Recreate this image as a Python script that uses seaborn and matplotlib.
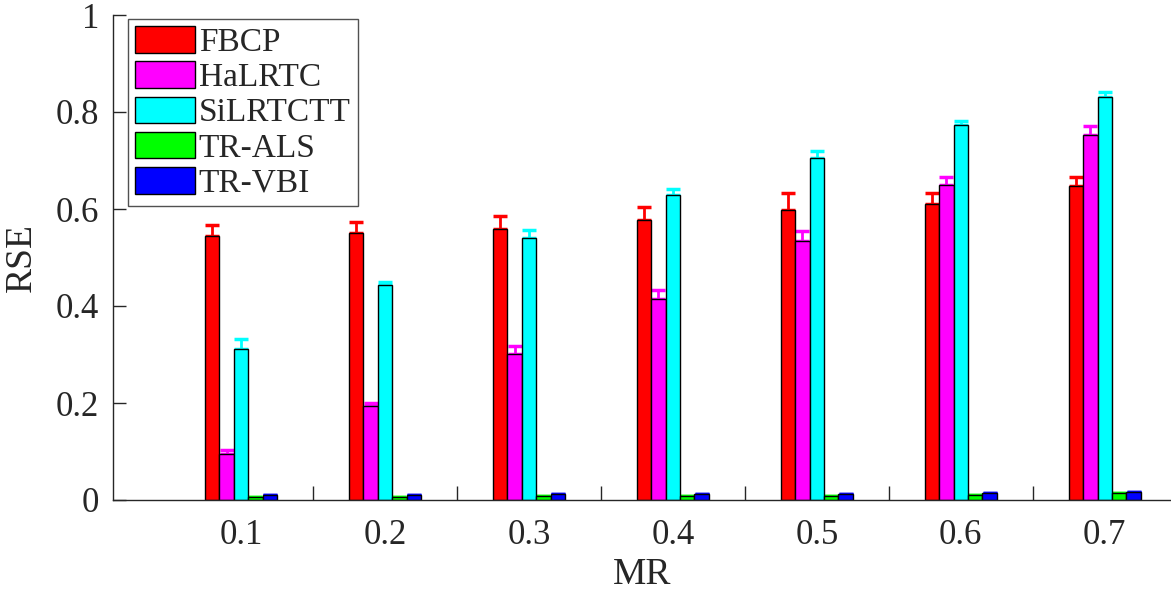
import numpy as np
import pandas as pd
import matplotlib
matplotlib.use('Agg')
import matplotlib.pyplot as plt
import seaborn as sns

# valores
mr = ['0.1', '0.2', '0.3', '0.4', '0.5', '0.6', '0.7']
methods = ['FBCP', 'HaLRTC', 'SiLRTCTT', 'TR-ALS', 'TR-VBI']
colors = ['#ff0000', '#ff00ff', '#00ffff', '#00ff00', '#0000ff']

fbcp = [0.545, 0.550, 0.559, 0.577, 0.597, 0.610, 0.648]
halrtc = [0.094, 0.194, 0.302, 0.414, 0.535, 0.649, 0.753]
silrtctt = [0.311, 0.443, 0.541, 0.629, 0.706, 0.773, 0.830]
trals = [0.007, 0.007, 0.008, 0.009, 0.009, 0.010, 0.014]
trvbi = [0.010, 0.011, 0.012, 0.012, 0.013, 0.014, 0.016]

fbcp_err = [0.022, 0.024, 0.027, 0.027, 0.037, 0.022, 0.017]
halrtc_err = [0.009, 0.006, 0.016, 0.018, 0.020, 0.018, 0.018]
silrtctt_err = [0.020, 0.007, 0.016, 0.012, 0.014, 0.009, 0.011]
trals_err = [0.0, 0.0, 0.0, 0.0, 0.0, 0.0, 0.0]
trvbi_err = [0.0, 0.0, 0.0, 0.0, 0.0, 0.0, 0.0]

values = [fbcp, halrtc, silrtctt, trals, trvbi]
errors = [fbcp_err, halrtc_err, silrtctt_err, trals_err, trvbi_err]

df = pd.DataFrame({
    'MR': np.tile(mr, len(methods)),
    'method': np.repeat(methods, len(mr)),
    'RSE': np.concatenate(values),
})

sns.set_style('white')
plt.rcParams['font.family'] = ['Liberation Serif', 'DejaVu Serif']

fig = plt.figure(figsize=(11.71, 5.94), dpi=100)
ax = fig.add_axes([113 / 1171, 1 - 500 / 594, 1 - 113 / 1171, (500 - 15) / 594])

sns.barplot(data=df, x='MR', y='RSE', hue='method', hue_order=methods,
            order=mr, palette=colors, width=0.5, errorbar=None,
            edgecolor='black', linewidth=1.0, saturation=1, ax=ax, zorder=2)

# barras de erro (só para cima), mesma cor da barra
bar_groups = list(ax.containers)
for k, cont in enumerate(bar_groups):
    xs = [p.get_x() + p.get_width() / 2 for p in cont.patches]
    ax.errorbar(xs, values[k], yerr=[np.zeros(len(mr)), errors[k]],
                fmt='none', ecolor=colors[k], elinewidth=2, capsize=5,
                capthick=2.5, zorder=1)

ax.set_xlim(-0.889, 6.46)
ax.set_ylim(0, 1)
ax.set_yticks([0, 0.2, 0.4, 0.6, 0.8, 1])
ax.set_yticklabels(['0', '0.2', '0.4', '0.6', '0.8', '1'])

# marcas entre grupos, rótulos no centro
ax.set_xticks(np.arange(0.5, 6.0, 1.0))
ax.set_xticklabels([])
ax.set_xticks(np.arange(len(mr)), minor=True)
ax.set_xticklabels(mr, minor=True)
ax.tick_params(axis='x', which='major', bottom=True, direction='in', length=10, width=1, color='#262626')
ax.tick_params(axis='x', which='minor', bottom=True, length=0, pad=14, labelsize=25)
ax.tick_params(axis='y', left=True, direction='in', length=9, width=1, color='#262626', labelsize=25, pad=10)

for s in ['top', 'right']:
    ax.spines[s].set_visible(False)
for s in ['left', 'bottom']:
    ax.spines[s].set_color('#262626')
    ax.spines[s].set_linewidth(1.0)

ax.set_xlabel('MR', fontsize=27, labelpad=4)
ax.set_ylabel('RSE', fontsize=27, labelpad=12)

leg = ax.legend(loc='upper left', bbox_to_anchor=(128 / 1171, 1 - 19 / 594),
                bbox_transform=fig.transFigure, fontsize=24, frameon=True,
                fancybox=False, edgecolor='#262626', handlelength=1.8,
                handleheight=0.85, handletextpad=0.1, labelspacing=0.1,
                borderpad=0.22, borderaxespad=0)
leg.get_frame().set_linewidth(1.0)

plt.savefig('out.png', dpi=100)
